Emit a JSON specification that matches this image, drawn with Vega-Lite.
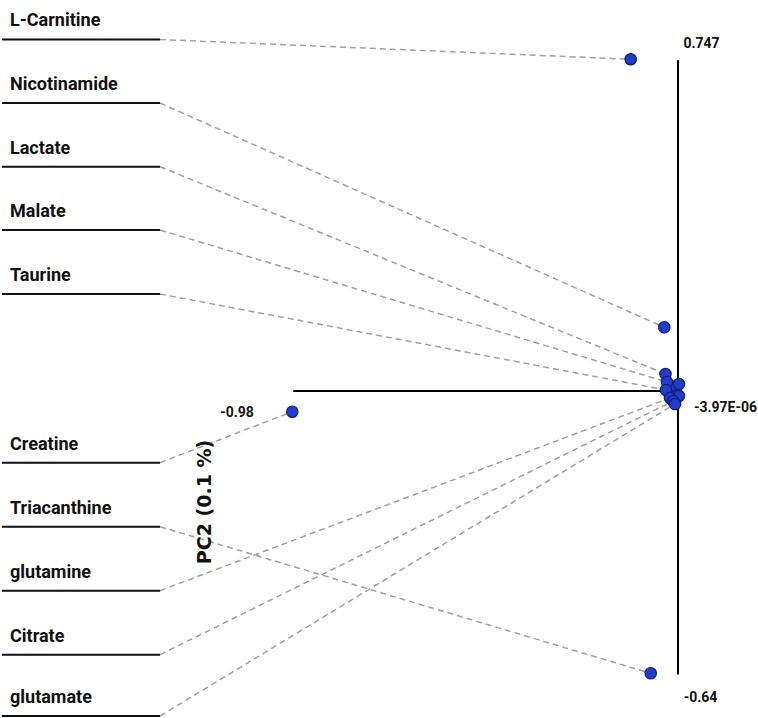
{
  "$schema": "https://vega.github.io/schema/vega-lite/v6.json",
  "width": 758,
  "height": 718,
  "padding": 0,
  "autosize": {"type": "fit", "contains": "padding"},
  "background": "white",
  "config": {"view": {"stroke": null}},
  "datasets": {
    "mets": [
      {"name": "L-Carnitine", "lx0": -1.7218, "lx1": -1.3194, "ly": 0.7937, "px": -0.1205, "py": 0.749},
      {"name": "Nicotinamide", "lx0": -1.7218, "lx1": -1.3194, "ly": 0.6503, "px": -0.0349, "py": 0.1438},
      {"name": "Lactate", "lx0": -1.7218, "lx1": -1.3194, "ly": 0.5064, "px": -0.0318, "py": 0.0384},
      {"name": "Malate", "lx0": -1.7218, "lx1": -1.3194, "ly": 0.3635, "px": -0.028, "py": 0.0203},
      {"name": "Taurine", "lx0": -1.7218, "lx1": -1.3194, "ly": 0.219, "px": -0.0306, "py": 0.0023},
      {"name": "Creatine", "lx0": -1.7218, "lx1": -1.3194, "ly": -0.1619, "px": -0.9824, "py": -0.0467},
      {"name": "Triacanthine", "lx0": -1.7218, "lx1": -1.3194, "ly": -0.3064, "px": -0.0695, "py": -0.6374},
      {"name": "glutamine", "lx0": -1.7218, "lx1": -1.3194, "ly": -0.4509, "px": -0.0204, "py": -0.0158},
      {"name": "Citrate", "lx0": -1.7218, "lx1": -1.3194, "ly": -0.5954, "px": -0.0127, "py": -0.0226},
      {"name": "glutamate", "lx0": -1.7218, "lx1": -1.3194, "ly": -0.7338, "px": -0.0076, "py": -0.0294}
    ],
    "extra": [
      {"px": -0.0051, "py": 0.009},
      {"px": -0.0025, "py": -0.0068},
      {"px": -0.0178, "py": 0.0113},
      {"px": 0.0025, "py": 0.0158},
      {"px": 0.0025, "py": -0.0113}
    ],
    "axes": [
      {"x1": 0, "x2": 0, "y1": -0.64, "y2": 0.747},
      {"x1": -0.98, "x2": 0, "y1": 0, "y2": 0}
    ],
    "ticks": [
      {"label": "0.747", "tx": 0.0599, "ty": 0.7835},
      {"label": "-0.64", "tx": 0.0573, "ty": -0.6932},
      {"label": "-0.98", "tx": -1.1233, "ty": -0.049},
      {"label": "-3.97E-06", "tx": 0.121, "ty": -0.0384}
    ],
    "title": [
      {"label": "PC2 (0.1 %)", "tx": -1.2048, "ty": -0.2506}
    ]
  },
  "layer": [
    {
      "data": {"name": "mets"},
      "mark": {"type": "rule", "color": "#a0a0a0", "strokeWidth": 1.5, "strokeDash": [6, 4]},
      "encoding": {
        "x": {"field": "lx1", "type": "quantitative", "scale": {"domain": [-1.7269, 0.2038], "nice": false, "zero": false}, "axis": null},
        "y": {"field": "ly", "type": "quantitative", "scale": {"domain": [-0.7383, 0.8828], "nice": false, "zero": false}, "axis": null},
        "x2": {"field": "px"},
        "y2": {"field": "py"}
      }
    },
    {
      "data": {"name": "mets"},
      "mark": {"type": "rule", "color": "#111111", "strokeWidth": 2},
      "encoding": {
        "x": {"field": "lx0", "type": "quantitative", "scale": {"domain": [-1.7269, 0.2038], "nice": false, "zero": false}, "axis": null},
        "x2": {"field": "lx1"},
        "y": {"field": "ly", "type": "quantitative", "scale": {"domain": [-0.7383, 0.8828], "nice": false, "zero": false}, "axis": null}
      }
    },
    {
      "data": {"name": "mets"},
      "mark": {"type": "text", "align": "left", "baseline": "alphabetic", "dx": 8, "dy": -13, "font": "Roboto", "fontWeight": "bold", "fontSize": 18, "color": "#111111"},
      "encoding": {
        "x": {"field": "lx0", "type": "quantitative", "scale": {"domain": [-1.7269, 0.2038], "nice": false, "zero": false}, "axis": null},
        "y": {"field": "ly", "type": "quantitative", "scale": {"domain": [-0.7383, 0.8828], "nice": false, "zero": false}, "axis": null},
        "text": {"field": "name"}
      }
    },
    {
      "data": {"name": "axes"},
      "mark": {"type": "rule", "color": "#000000", "strokeWidth": 2},
      "encoding": {
        "x": {"field": "x1", "type": "quantitative", "scale": {"domain": [-1.7269, 0.2038], "nice": false, "zero": false}, "axis": null},
        "x2": {"field": "x2"},
        "y": {"field": "y1", "type": "quantitative", "scale": {"domain": [-0.7383, 0.8828], "nice": false, "zero": false}, "axis": null},
        "y2": {"field": "y2"}
      }
    },
    {
      "data": {"name": "ticks"},
      "mark": {"type": "text", "align": "center", "baseline": "middle", "font": "Roboto", "fontWeight": "bold", "fontSize": 14, "color": "#111111"},
      "encoding": {
        "x": {"field": "tx", "type": "quantitative", "scale": {"domain": [-1.7269, 0.2038], "nice": false, "zero": false}, "axis": null},
        "y": {"field": "ty", "type": "quantitative", "scale": {"domain": [-0.7383, 0.8828], "nice": false, "zero": false}, "axis": null},
        "text": {"field": "label"}
      }
    },
    {
      "data": {"name": "title"},
      "mark": {"type": "text", "angle": 270, "align": "center", "baseline": "middle", "font": "DejaVu Sans", "fontWeight": "bold", "fontSize": 19, "color": "#111111"},
      "encoding": {
        "x": {"field": "tx", "type": "quantitative", "scale": {"domain": [-1.7269, 0.2038], "nice": false, "zero": false}, "axis": null},
        "y": {"field": "ty", "type": "quantitative", "scale": {"domain": [-0.7383, 0.8828], "nice": false, "zero": false}, "axis": null},
        "text": {"field": "label"}
      }
    },
    {
      "data": {"name": "extra"},
      "mark": {"type": "point", "shape": "circle", "filled": true, "size": 130, "fill": "#1f3cd2", "stroke": "#15206a", "strokeWidth": 1.2, "opacity": 1},
      "encoding": {
        "x": {"field": "px", "type": "quantitative", "scale": {"domain": [-1.7269, 0.2038], "nice": false, "zero": false}, "axis": null},
        "y": {"field": "py", "type": "quantitative", "scale": {"domain": [-0.7383, 0.8828], "nice": false, "zero": false}, "axis": null}
      }
    },
    {
      "data": {"name": "mets"},
      "mark": {"type": "point", "shape": "circle", "filled": true, "size": 130, "fill": "#1f3cd2", "stroke": "#15206a", "strokeWidth": 1.2, "opacity": 1},
      "encoding": {
        "x": {"field": "px", "type": "quantitative", "scale": {"domain": [-1.7269, 0.2038], "nice": false, "zero": false}, "axis": null},
        "y": {"field": "py", "type": "quantitative", "scale": {"domain": [-0.7383, 0.8828], "nice": false, "zero": false}, "axis": null}
      }
    }
  ]
}
